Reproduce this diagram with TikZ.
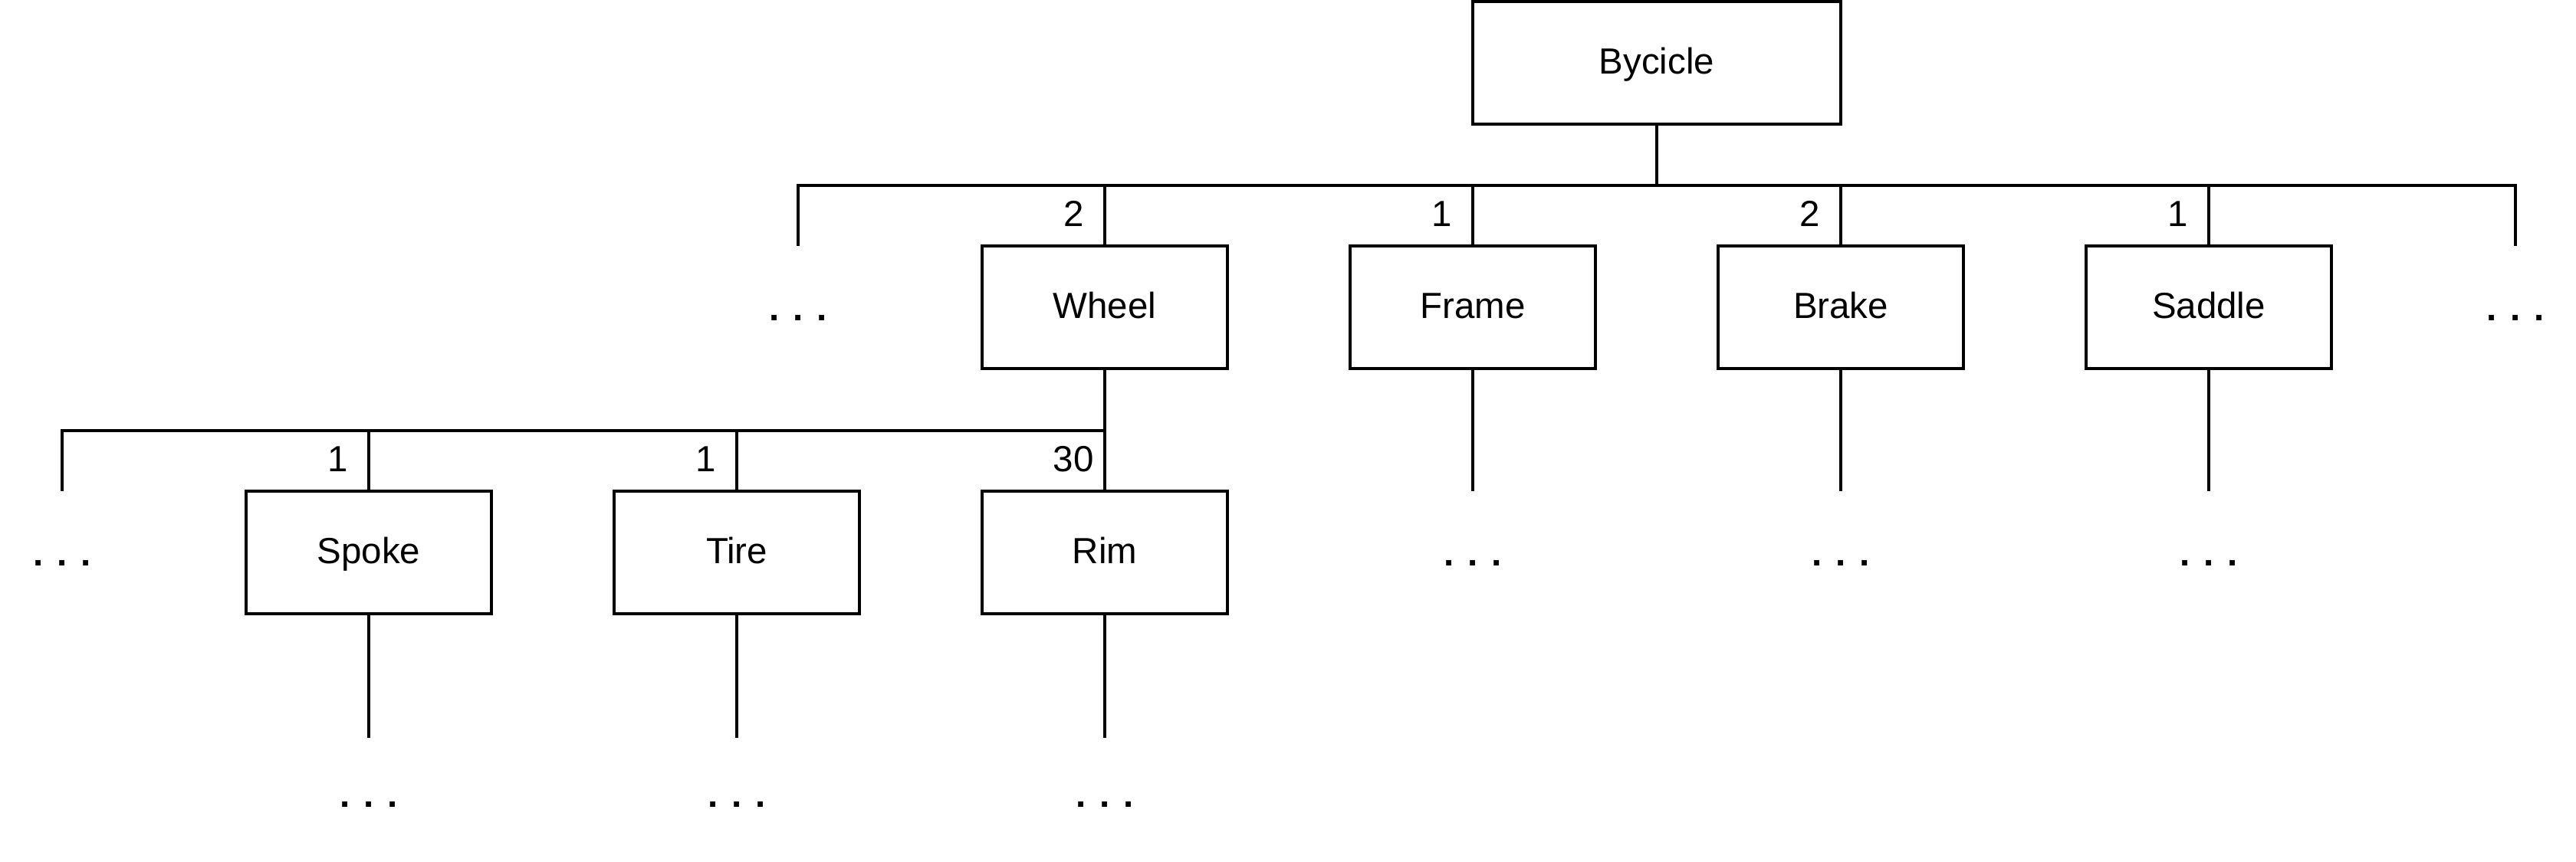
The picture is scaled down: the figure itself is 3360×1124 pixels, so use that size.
\documentclass[tikz,border=0pt]{standalone}
\usepackage{fontspec}
\setmainfont{Liberation Sans}
\usetikzlibrary{positioning}
\newcommand{\partfont}{\fontsize{13.5pt}{16pt}\selectfont}
\tikzset{
  part/.style={draw,line width=1.1pt,minimum width=3.2cm,minimum height=1.6cm,inner sep=0pt,
    text height=10pt,text depth=2pt,font=\partfont},
  root/.style={part,minimum width=4.8cm},
  more/.style={anchor=base,inner sep=0pt,font=\partfont\bfseries},
  qty/.style={inner sep=0pt,font=\partfont},
  link/.style={line width=1.1pt},
  every picture/.style={x=0.01cm,y=-0.01cm}
}
\begin{document}
\begin{tikzpicture}
  \useasboundingbox (0,0) rectangle (3360,1124);
  % top level
  \node[root] (bike) at (2161,82) {Bycicle};
  \node[part] (wheel) at (1441,401) {Wheel};
  \node[part] (frame) at (1921,401) {Frame};
  \node[part] (brake) at (2401,401) {Brake};
  \node[part] (saddle) at (2881,401) {Saddle};
  \node[more] (m1l) at (1041,418) {. . .}; \node[more] (m1r) at (3281,418) {. . .};
  \coordinate (b1l) at (1041,242); \coordinate (b1r) at (3281,242);
  \coordinate (s1l) at (1041,321); \coordinate (s1r) at (3281,321);
  \draw[link] (s1l) -- (b1l) -- (b1r) -- (s1r);
  \draw[link] (bike.south) -- (bike.south |- b1l);
  \foreach \n in {wheel,frame,brake,saddle} \draw[link] (\n.north) -- (\n.north |- b1l);
  \node[qty] (q-wheel) at (1401,279) {2}; \node[qty] (q-frame) at (1881,279) {1};
  \node[qty] (q-brake) at (2361,279) {2}; \node[qty] (q-saddle) at (2841,279) {1};
  % wheel parts
  \node[part] (spoke) at (481,721) {Spoke};
  \node[part] (tire) at (961,721) {Tire};
  \node[part] (rim) at (1441,721) {Rim};
  \node[more] (m2l) at (81,738) {. . .};
  \coordinate (b2l) at (81,562); \coordinate (s2l) at (81,641);
  \draw[link] (s2l) -- (b2l) -| (wheel.south);
  \foreach \n in {spoke,tire,rim} \draw[link] (\n.north) -- (\n.north |- b2l);
  \node[qty] (q-spoke) at (441,599) {1}; \node[qty] (q-tire) at (921,599) {1};
  \node[qty] (q-rim) at (1400,599) {30};
  % open ends
  \foreach \n in {frame,brake,saddle}{
    \coordinate (e-\n) at (\n.south |- s2l);
    \draw[link] (\n.south) -- (e-\n);
    \node[more] (m-\n) at ([yshift=-0.97cm]e-\n) {. . .};
  }
  \foreach \n in {spoke,tire,rim}{
    \coordinate (e-\n) at ([yshift=-1.6cm]\n.south);
    \draw[link] (\n.south) -- (e-\n);
    \node[more] (m-\n) at ([yshift=-0.9cm]e-\n) {. . .};
  }
\end{tikzpicture}
\end{document}
